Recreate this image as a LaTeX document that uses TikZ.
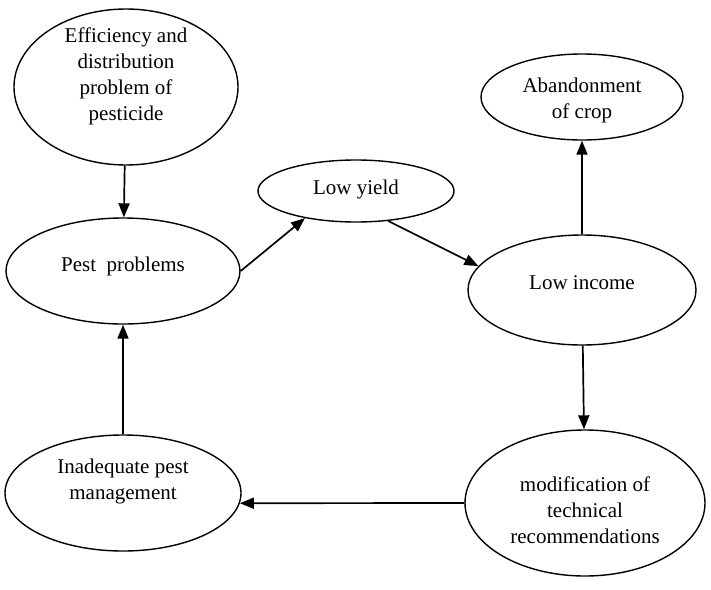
\documentclass[tikz,border=0pt]{standalone}
\usepackage{fontspec}
\setmainfont{Liberation Serif}
\usetikzlibrary{arrows.meta,calc,shapes.geometric}
\begin{document}
\begin{tikzpicture}[x=1pt,y=-1pt,
  ell/.style={draw,ellipse,line width=1.4pt,inner sep=0pt},
  txt/.style={align=center,font=\fontsize{21}{26}\selectfont,inner sep=0pt},
  arr/.style={line width=1.7pt,-{Triangle[length=14pt,width=11pt]}}]
\useasboundingbox (0,0) rectangle (711,589);
% ellipses
\node[ell,minimum width=224pt,minimum height=156pt] (eff) at (126,87) {};
\node[ell,minimum width=234pt,minimum height=106pt] (pest) at (123,271) {};
\node[ell,minimum width=196pt,minimum height=62pt] (lowyield) at (356,191) {};
\node[ell,minimum width=202pt,minimum height=86pt] (aband) at (582,97) {};
\node[ell,minimum width=228pt,minimum height=110pt] (lowincome) at (582,290) {};
\node[ell,minimum width=236pt,minimum height=116pt] (inadequate) at (123,493) {};
\node[ell,minimum width=240pt,minimum height=146pt] (modif) at (585,503) {};
% texts
\node[txt] (efft) at (126,76) {Efficiency and\\distribution\\problem of\\pesticide};
\node[txt] (pestt) at (123,266) {Pest\ \ problems};
\node[txt] (lowyieldt) at (356,189) {Low yield};
\node[txt] (abandt) at (582,100) {Abandonment\\of crop};
\node[txt] (lowincomet) at (582,283) {Low income};
\node[txt] (inadequatet) at (123,481) {Inadequate pest\\management};
\node[txt] (modift) at (585,510) {modification of\\technical\\recommendations};
% arrows
\draw[arr] (eff) -- (pest);
\draw[arr] (pest.east) -- (lowyield.208);
\draw[arr] (lowyield.317) -- (lowincome.167);
\draw[arr] (lowincome) -- (aband);
\draw[arr] (lowincome) -- (modif);
\draw[arr] (modif.west) -- (inadequate.-5);
\draw[arr] (inadequate) -- (pest);
\end{tikzpicture}
\end{document}
